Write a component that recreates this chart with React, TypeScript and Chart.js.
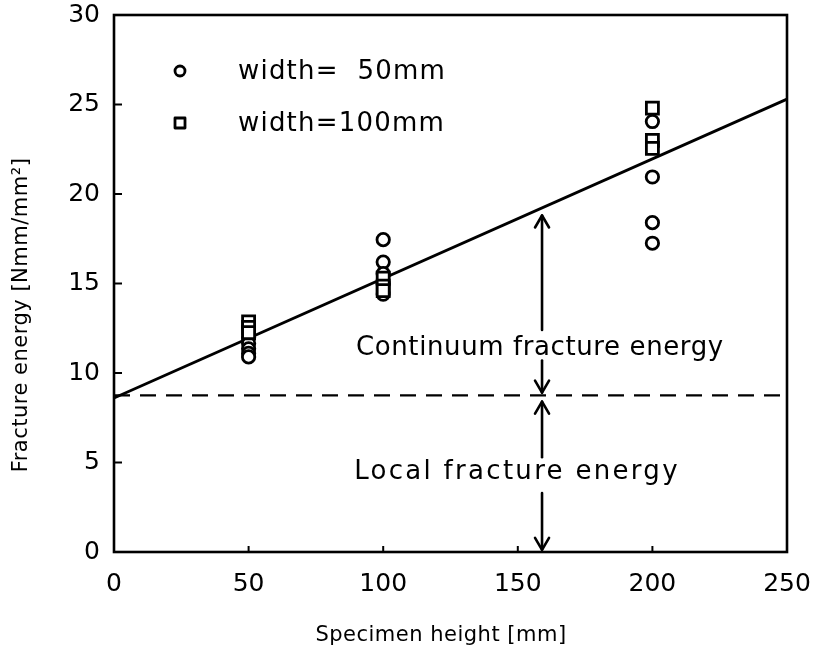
import React, { useEffect, useRef } from "react";
import { Chart, registerables } from "chart.js";

Chart.register(...registerables);

// ---- data ----
const X_TICKS = [0, 50, 100, 150, 200, 250];
const Y_TICKS = [0, 5, 10, 15, 20, 25, 30];

const circleX = [50, 50, 50, 50, 50, 100, 100, 100, 100, 100, 200, 200, 200, 200];
const circleY = [12.0, 11.65, 11.35, 11.1, 10.9, 17.45, 16.2, 15.55, 15.0, 14.4, 24.05, 20.95, 18.4, 17.25];

const squareX = [50, 50, 50, 100, 100, 100, 200, 200, 200];
const squareY = [12.85, 12.55, 12.25, 15.3, 14.85, 14.6, 24.8, 23.0, 22.55];

const fitX = [0, 250];
const fitY = [8.6, 25.3];

const localX = [0, 250];
const localY = [8.75, 8.75];

const ARROW_X = 159;
const arrowFrom = [12.4, 10.7, 5.3, 3.3];
const arrowTo = [18.8, 8.9, 8.4, 0.12];

const NOTE_TEXT = ["Continuum fracture energy", "Local fracture energy"];
const NOTE_X = [158.2, 149.7];
const NOTE_Y = [11.4, 4.47];

const LEGEND_LABELS = ["width=  50mm", "width=100mm"];
const X_TITLE = "Specimen height [mm]";
const Y_TITLE = "Fracture energy [Nmm/mm\u00B2]";

const FONT = "'DejaVu Sans', sans-serif";
const NOTE_SPACING = ["0.6px", "2.3px"];

const overlay = {
  id: "overlay",
  afterDatasetsDraw(chart: any) {
    const { ctx, chartArea: ca, scales } = chart;
    const xs = scales.x;
    const ys = scales.y;
    ctx.save();
    ctx.strokeStyle = "#000";
    ctx.fillStyle = "#000";
    ctx.lineWidth = 2.6;
    ctx.setLineDash([]);
    ctx.strokeRect(ca.left, ca.top, ca.right - ca.left, ca.bottom - ca.top);

    // inward ticks
    ctx.lineWidth = 2;
    X_TICKS.forEach((v) => {
      const px = xs.getPixelForValue(v);
      ctx.beginPath();
      ctx.moveTo(px, ca.bottom);
      ctx.lineTo(px, ca.bottom - 6);
      ctx.stroke();
    });
    Y_TICKS.forEach((v) => {
      const py = ys.getPixelForValue(v);
      ctx.beginPath();
      ctx.moveTo(ca.left, py);
      ctx.lineTo(ca.left + 8, py);
      ctx.stroke();
    });

    // arrows
    const ax = xs.getPixelForValue(ARROW_X);
    ctx.lineWidth = 2.6;
    ctx.lineCap = "round";
    ctx.lineJoin = "round";
    arrowFrom.forEach((f, i) => {
      const y0 = ys.getPixelForValue(f);
      const y1 = ys.getPixelForValue(arrowTo[i]);
      ctx.beginPath();
      ctx.moveTo(ax, y0);
      ctx.lineTo(ax, y1);
      ctx.stroke();
      const dir = y1 < y0 ? 1 : -1;
      ctx.beginPath();
      ctx.moveTo(ax - 7, y1 + dir * 12);
      ctx.lineTo(ax, y1);
      ctx.lineTo(ax + 7, y1 + dir * 12);
      ctx.stroke();
    });

    // notes
    ctx.font = `26px ${FONT}`;
    ctx.textAlign = "center";
    ctx.textBaseline = "middle";
    NOTE_TEXT.forEach((t, i) => {
      (ctx as any).letterSpacing = NOTE_SPACING[i];
      ctx.fillText(t, xs.getPixelForValue(NOTE_X[i]), ys.getPixelForValue(NOTE_Y[i]));
    });

    // legend
    ctx.textAlign = "left";
    ctx.font = `26px ${FONT}`;
    (ctx as any).letterSpacing = "1.2px";
    const lx = ca.left + 66;
    const ly = [ca.top + 56, ca.top + 108];
    ctx.lineWidth = 2.8;
    ctx.beginPath();
    ctx.arc(lx, ly[0], 5, 0, Math.PI * 2);
    ctx.stroke();
    ctx.strokeRect(lx - 5, ly[1] - 5, 10, 10);
    LEGEND_LABELS.forEach((t, i) => {
      ctx.fillText(t, ca.left + 124, ly[i] + 1);
    });

    // axis titles
    ctx.font = `21px ${FONT}`;
    (ctx as any).letterSpacing = "0.5px";
    ctx.textAlign = "center";
    ctx.fillText(X_TITLE, 441, 636);
    ctx.save();
    ctx.translate(22, 315);
    ctx.rotate(-Math.PI / 2);
    ctx.fillText(Y_TITLE, 0, 0);
    ctx.restore();
    ctx.restore();
  },
};

export default function App() {
  const ref = useRef<HTMLCanvasElement>(null);
  useEffect(() => {
    if (!ref.current) return;
    const pts = (xa: number[], ya: number[]) => xa.map((x, i) => ({ x, y: ya[i] }));
    const chart = new Chart(ref.current, {
      type: "scatter",
      data: {
        datasets: [
          {
            label: "width=50mm",
            data: pts(circleX, circleY),
            pointStyle: "circle",
            pointRadius: 6.2,
            pointBorderWidth: 2.8,
            borderColor: "#000",
            backgroundColor: "#fff",
            order: 1,
          },
          {
            label: "width=100mm",
            data: pts(squareX, squareY),
            pointStyle: "rect",
            pointRadius: 8.5,
            pointBorderWidth: 2.8,
            borderColor: "#000",
            backgroundColor: "#fff",
            order: 0,
          },
          {
            type: "line",
            label: "fit",
            data: pts(fitX, fitY),
            showLine: true,
            pointRadius: 0,
            borderColor: "#000",
            borderWidth: 2.8,
            order: 3,
          } as any,
          {
            type: "line",
            label: "local",
            data: pts(localX, localY),
            showLine: true,
            pointRadius: 0,
            borderColor: "#000",
            borderWidth: 2.4,
            borderDash: [16, 10],
            order: 3,
          } as any,
        ],
      },
      options: {
        responsive: false,
        animation: false,
        devicePixelRatio: 1,
        layout: { padding: { left: 0, right: 27, top: 15, bottom: 0 } },
        plugins: { legend: { display: false }, tooltip: { enabled: false } },
        scales: {
          x: {
            type: "linear",
            min: 0,
            max: 250,
            afterFit: (s: any) => {
              s.height = 111;
              s.paddingLeft = 0;
              s.paddingRight = 0;
            },
            afterBuildTicks: (s: any) => {
              s.ticks = X_TICKS.map((v) => ({ value: v }));
            },
            grid: { display: false, drawTicks: false },
            border: { display: false },
            ticks: {
              color: "#000",
              padding: 17,
              maxRotation: 0,
              font: { family: FONT, size: 25 },
            },
          },
          y: {
            type: "linear",
            min: 0,
            max: 30,
            afterFit: (s: any) => {
              s.width = 114;
              s.paddingTop = 0;
              s.paddingBottom = 0;
            },
            afterBuildTicks: (s: any) => {
              s.ticks = Y_TICKS.map((v) => ({ value: v }));
            },
            grid: { display: false, drawTicks: false },
            border: { display: false },
            ticks: {
              color: "#000",
              padding: 14,
              font: { family: FONT, size: 25 },
            },
          },
        },
      },
      plugins: [overlay],
    });
    return () => chart.destroy();
  }, []);
  return (
    <div style={{ position: "absolute", left: 0, top: 0, width: 814, height: 663, background: "#fff" }}>
      <canvas ref={ref} width={814} height={663} />
    </div>
  );
}
